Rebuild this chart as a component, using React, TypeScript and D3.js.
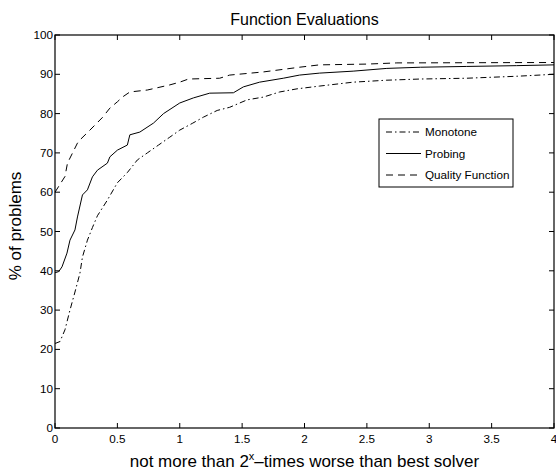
import React from "react";
import * as d3 from "d3";

// Performance profile: share of problems solved within 2^x of the best solver
const monotoneX = [0, 0.04, 0.08, 0.12, 0.16, 0.2, 0.22, 0.26, 0.3, 0.34, 0.42, 0.5, 0.58, 0.66, 0.74, 0.83, 0.92, 1.0, 1.1, 1.19, 1.3, 1.4, 1.54, 1.67, 1.8, 1.94, 2.12, 2.39, 2.66, 2.93, 3.3, 3.7, 4];
const monotoneY = [21.5, 22, 25, 30, 34.6, 39.4, 43.5, 47.8, 51, 54, 58, 62.4, 65, 68.2, 70, 72, 74, 75.8, 77.5, 79.1, 80.8, 81.6, 83.5, 84.2, 85.5, 86.3, 87, 88, 88.5, 88.8, 89, 89.5, 90];

const probingX = [0, 0.03, 0.056, 0.096, 0.12, 0.16, 0.18, 0.22, 0.26, 0.3, 0.34, 0.42, 0.44, 0.5, 0.58, 0.6, 0.68, 0.79, 0.87, 1.0, 1.11, 1.24, 1.43, 1.51, 1.64, 1.83, 1.96, 2.12, 2.39, 2.66, 2.93, 3.3, 3.7, 4];
const probingY = [39.5, 39.8, 41, 44.5, 47.8, 50.4, 53.7, 59.3, 60.6, 63.9, 65.6, 67.4, 69, 70.7, 72, 74.6, 75.3, 77.6, 80, 82.7, 84, 85.2, 85.3, 86.8, 88, 89, 89.8, 90.3, 90.8, 91.5, 91.8, 92, 92.2, 92.4];

const qualityX = [0, 0.08, 0.1, 0.18, 0.2, 0.28, 0.38, 0.44, 0.5, 0.54, 0.6, 0.74, 0.92, 1.0, 1.07, 1.32, 1.4, 1.67, 1.96, 2.12, 2.5, 2.74, 4];
const qualityY = [60, 64, 67.4, 72.5, 73.3, 75.8, 79, 81.4, 83, 84.2, 85.5, 86, 87.3, 88, 88.8, 89, 89.8, 90.6, 91.8, 92.4, 92.6, 92.9, 93];

const seriesNames = ["Monotone", "Probing", "Quality Function"];
const xTicks = [0, 0.5, 1, 1.5, 2, 2.5, 3, 3.5, 4];
const yTicks = [0, 10, 20, 30, 40, 50, 60, 70, 80, 90, 100];

const W = 556;
const H = 474;
const M = { left: 55, right: 2, top: 35, bottom: 46 };
const FONT = "'Liberation Sans', Arial, Helvetica, sans-serif";
const dashes = ["6,3,1.5,3", "none", "7,5"];

export default function App() {
  const x = d3.scaleLinear().domain([0, 4]).range([M.left, W - M.right]);
  const y = d3.scaleLinear().domain([0, 100]).range([H - M.bottom, M.top]);
  const line = d3
    .line<[number, number]>()
    .x((d) => x(d[0]))
    .y((d) => y(d[1]));

  const series = [
    monotoneX.map((v, i) => [v, monotoneY[i]] as [number, number]),
    probingX.map((v, i) => [v, probingY[i]] as [number, number]),
    qualityX.map((v, i) => [v, qualityY[i]] as [number, number]),
  ];

  const x0 = x(0), x1 = x(4), y0 = y(0), y1 = y(100);
  const tk = 5;
  const lg = { x: 379, y: 119, w: 134, h: 68 };

  return (
    <svg
      width={W}
      height={H}
      style={{ position: "absolute", left: 0, top: 0, background: "#fff" }}
      fontFamily={FONT}
    >
      <rect x={0} y={0} width={W} height={H} fill="#fff" />
      <text x={(x0 + x1) / 2} y={25} textAnchor="middle" fontSize={16}>
        Function Evaluations
      </text>

      {/* ticks on all four sides, pointing inward */}
      {xTicks.map((t) => (
        <g key={"x" + t}>
          <line x1={x(t)} x2={x(t)} y1={y0} y2={y0 - tk} stroke="#000" />
          <line x1={x(t)} x2={x(t)} y1={y1} y2={y1 + tk} stroke="#000" />
          <text x={x(t)} y={y0 + 15} textAnchor="middle" fontSize={11.7}>
            {t}
          </text>
        </g>
      ))}
      {yTicks.map((t) => (
        <g key={"y" + t}>
          <line x1={x0} x2={x0 + tk} y1={y(t)} y2={y(t)} stroke="#000" />
          <line x1={x1} x2={x1 - tk} y1={y(t)} y2={y(t)} stroke="#000" />
          <text x={x0 - 2} y={y(t) + 4} textAnchor="end" fontSize={11.7}>
            {t}
          </text>
        </g>
      ))}

      <g fill="none" stroke="#000" strokeWidth={1}>
        {series.map((s, i) => (
          <path key={i} d={line(s) || ""} strokeDasharray={dashes[i]} />
        ))}
      </g>

      <rect x={x0} y={y1} width={x1 - x0} height={y0 - y1} fill="none" stroke="#000" strokeWidth={1.2} />

      {/* legend */}
      <rect x={lg.x} y={lg.y} width={lg.w} height={lg.h} fill="#fff" stroke="#000" strokeWidth={1} />
      {seriesNames.map((n, i) => {
        const yy = lg.y + 13 + i * 21.5;
        return (
          <g key={n}>
            <line x1={lg.x + 7} x2={lg.x + 42} y1={yy} y2={yy} stroke="#000" strokeDasharray={dashes[i]} />
            <text x={lg.x + 46} y={yy + 4} fontSize={11.7}>
              {n}
            </text>
          </g>
        );
      })}

      <text
        transform={`translate(21,226) rotate(-90)`}
        textAnchor="middle"
        fontSize={17}
      >
        % of problems
      </text>
      <text x={(x0 + x1) / 2} y={467} textAnchor="middle" fontSize={17}>
        not more than 2
        <tspan dy={-7} fontSize={11}>x</tspan>
        <tspan dy={7}>–times worse than best solver</tspan>
      </text>
    </svg>
  );
}
